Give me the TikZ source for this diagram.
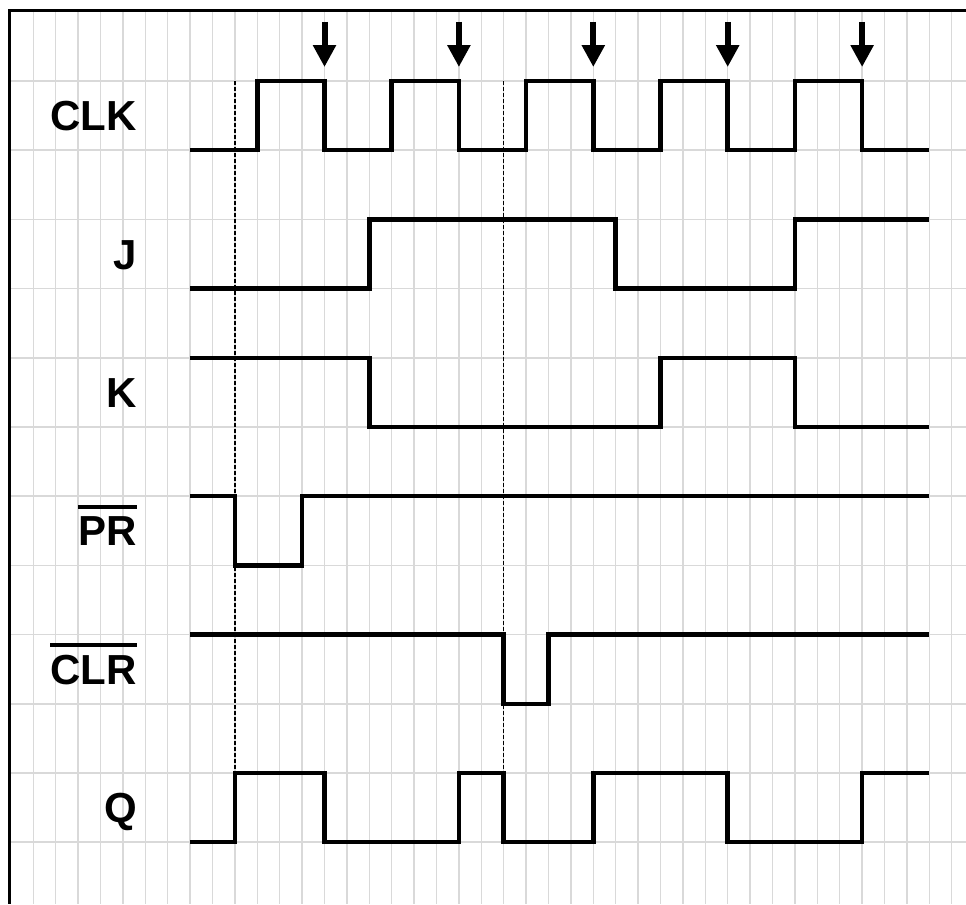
\documentclass[tikz,border=0pt]{standalone}
\usepackage{fontspec}
\setmainfont{Liberation Sans}
\usetikzlibrary{arrows.meta}
\newcommand\ovl[1]{\vbox{\hrule height 4pt\kern 8pt\hbox{#1}}}

\begin{document}
\begin{tikzpicture}[x=22.4pt, y=-69.2pt,
  gridline/.style={draw=black!15, line width=1.5pt},
  wave/.style={line width=4.5pt},
  sig/.style={anchor=base east, yshift=-15pt, inner sep=0pt, font=\fontsize{42}{42}\selectfont\bfseries},
  edgearrow/.style={line width=6pt, -{Triangle[width=22pt, length=22pt]}},
  guide/.style={line width=1.2pt, dash pattern=on 4pt off 2pt}]
\useasboundingbox (-1.4866,-1.1705) rectangle (41.638,11.893);
\foreach \k in {0,...,41} \draw[gridline] (\k,-1.019) -- (\k,11.893);
\foreach \m in {0,...,11} \draw[gridline] (-1.076,\m) -- (41.638,\m);
\draw[line width=3pt] (41.638,-1.019) -- (-1.076,-1.019) -- (-1.076,11.893);
\foreach \k in {9,21} \draw[guide] (\k,0) -- (\k,10);
\node[sig] (clk) at (4.63,0.5) {CLK};
\node[sig] (j) at (4.63,2.5) {J};
\node[sig] (k) at (4.63,4.5) {K};
\node[sig] (pr) at (4.63,6.5) {\ovl{PR}};
\node[sig] (clr) at (4.63,8.5) {\ovl{CLR}};
\node[sig] (q) at (4.63,10.5) {Q};
\draw[wave] (7,1) -| (10,0) -| (13,1) -| (16,0) -| (19,1) -| (22,0) -| (25,1) -| (28,0) -| (31,1) -| (34,0) -| (37,1) -- (40,1);
\draw[wave] (7,3) -| (15,2) -| (26,3) -| (34,2) -- (40,2);
\draw[wave] (7,4) -| (15,5) -| (28,4) -| (34,5) -- (40,5);
\draw[wave] (7,6) -| (9,7) -| (12,6) -- (40,6);
\draw[wave] (7,8) -| (21,9) -| (23,8) -- (40,8);
\draw[wave] (7,11) -| (9,10) -| (13,11) -| (19,10) -| (21,11) -| (25,10) -| (31,11) -| (37,10) -- (40,10);
\foreach \k in {13,19,...,37} \draw[edgearrow] (\k,-0.853) -- (\k,-0.202);
\end{tikzpicture}
\end{document}
